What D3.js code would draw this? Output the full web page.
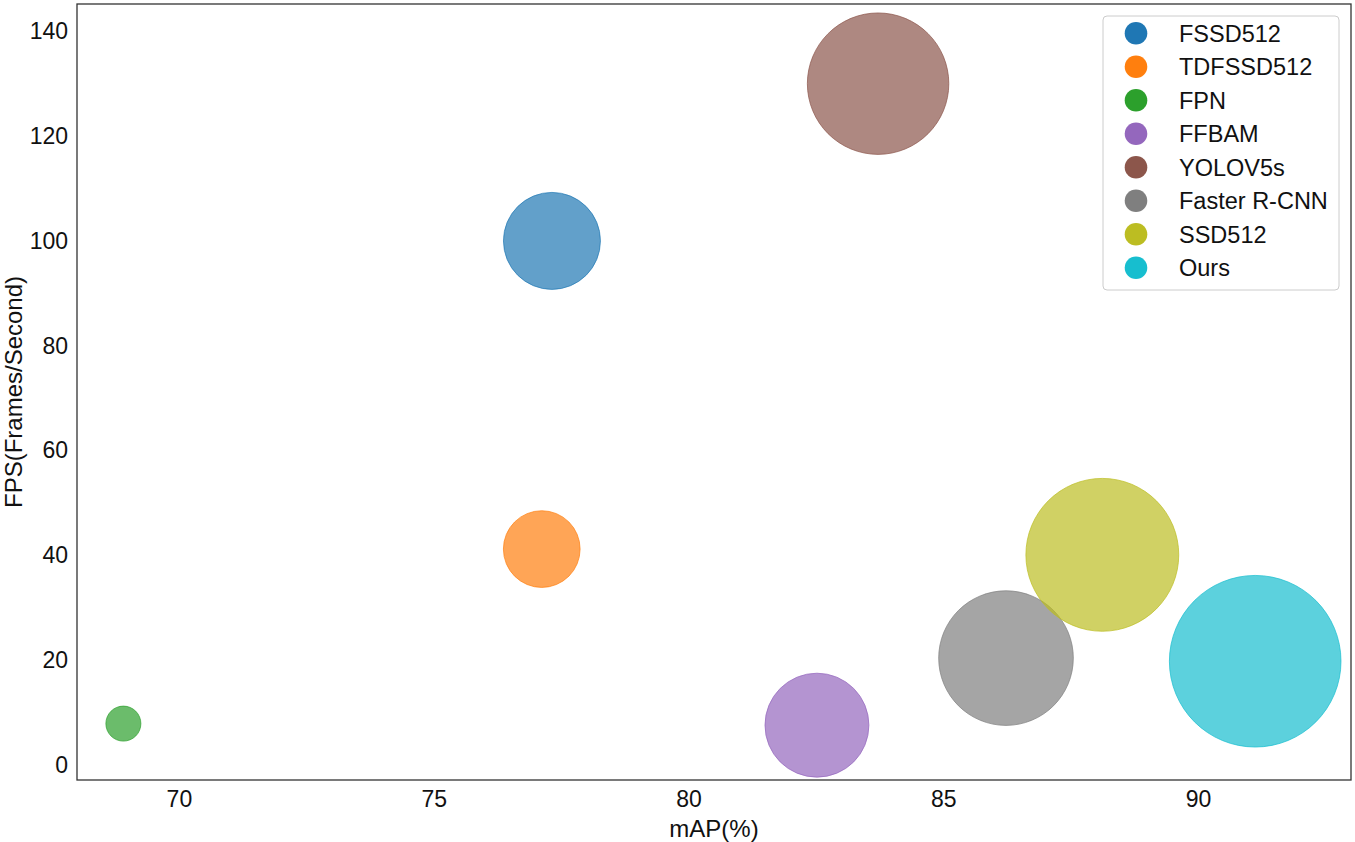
<!DOCTYPE html>
<html>
<head>
<meta charset="utf-8">
<script src="https://cdn.jsdelivr.net/npm/d3@7"></script>
<style>
  html, body { margin: 0; padding: 0; background: #fff; }
  svg { display: block; font-family: "Liberation Sans", Arial, sans-serif; }
</style>
</head>
<body>
<svg id="chart" width="1355" height="842"></svg>
<script>
// ---- data ----
const models = ["FSSD512", "TDFSSD512", "FPN", "FFBAM", "YOLOV5s", "Faster R-CNN", "SSD512", "Ours"];
const mAP    = [77.32, 77.12, 68.91, 82.52, 83.72, 86.23, 88.12, 91.12];
const fps    = [100, 41.2, 7.9, 7.6, 130, 20.4, 40.1, 19.8];
const bubbleSize = [2350, 1470, 306, 2700, 5000, 4530, 5840, 7360];
const colors = ["#1f77b4", "#ff7f0e", "#2ca02c", "#9467bd", "#8c564b", "#7f7f7f", "#bcbd22", "#17becf"];
const xTicks = [70, 75, 80, 85, 90];
const yTicks = [0, 20, 40, 60, 80, 100, 120, 140];

(function () {
// ---- layout ----
const pl = 77, pr = 1351, pt = 4, pb = 780;
const svg = d3.select("#chart");

const x = d3.scaleLinear().domain([68, 93]).range([pl, pr]);
const y = d3.scaleLinear().domain([-2.86, 145.2]).range([pb, pt]);
const r = d3.scaleSqrt().domain([0, d3.max(bubbleSize)]).range([0, 85.8]);

const data = models.map((m, i) => ({ name: m, x: mAP[i], y: fps[i], s: bubbleSize[i], c: colors[i] }));

// clip
svg.append("defs").append("clipPath").attr("id", "clip")
  .append("rect").attr("x", pl).attr("y", pt).attr("width", pr - pl).attr("height", pb - pt);

// bubbles
svg.append("g").attr("clip-path", "url(#clip)")
  .selectAll("circle").data(data).join("circle")
  .attr("cx", d => x(d.x))
  .attr("cy", d => y(d.y))
  .attr("r", d => r(d.s))
  .attr("fill", d => d.c)
  .attr("fill-opacity", 0.7)
  .attr("stroke", d => d.c)
  .attr("stroke-opacity", 0.7)
  .attr("stroke-width", 1);

// axes (no tick marks)
const xAxis = svg.append("g").attr("transform", `translate(0,${pb})`)
  .call(d3.axisBottom(x).tickValues(xTicks).tickSize(0).tickPadding(11).tickFormat(d3.format("d")));
const yAxis = svg.append("g").attr("transform", `translate(${pl},0)`)
  .call(d3.axisLeft(y).tickValues(yTicks).tickSize(0).tickPadding(9).tickFormat(d3.format("d")));
[xAxis, yAxis].forEach(a => {
  a.select(".domain").remove();
  a.selectAll("text").attr("font-size", 23).attr("fill", "#111").attr("font-family", "Liberation Sans, Arial, sans-serif");
});

// frame
svg.append("rect").attr("x", pl).attr("y", pt).attr("width", pr - pl).attr("height", pb - pt)
  .attr("fill", "none").attr("stroke", "#333").attr("stroke-width", 1.3);

// axis labels
svg.append("text").attr("x", (pl + pr) / 2).attr("y", 837)
  .attr("text-anchor", "middle").attr("font-size", 24).attr("fill", "#111").text("mAP(%)");
svg.append("text").attr("transform", `translate(22,${(pt + pb) / 2}) rotate(-90)`)
  .attr("text-anchor", "middle").attr("font-size", 24).attr("fill", "#111").text("FPS(Frames/Second)");

// legend
const lg = svg.append("g");
lg.append("rect").attr("x", 1103).attr("y", 16).attr("width", 236).attr("height", 274)
  .attr("rx", 4).attr("fill", "#fff").attr("fill-opacity", 0.8).attr("stroke", "#ccc").attr("stroke-width", 1);
const rows = lg.selectAll("g.row").data(data).join("g").attr("class", "row")
  .attr("transform", (d, i) => `translate(0,${33.3 + i * 33.5})`);
rows.append("circle").attr("cx", 1136).attr("cy", 0).attr("r", 11.3).attr("fill", d => d.c);
rows.append("text").attr("x", 1179).attr("y", 0).attr("dy", "0.35em")
  .attr("font-size", 23.5).attr("fill", "#111").text(d => d.name);
})();
</script>
</body>
</html>
